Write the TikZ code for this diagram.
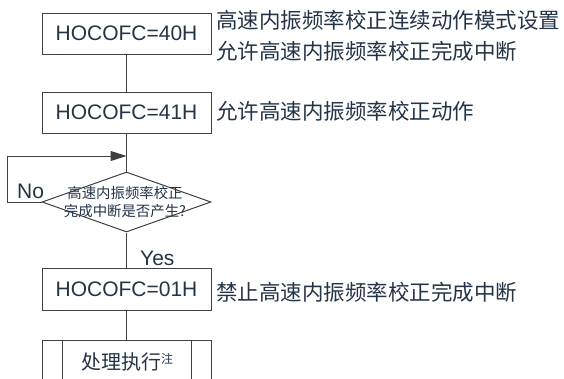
\documentclass[tikz,border=0pt]{standalone}
\usepackage{fontspec}
\setmainfont{Liberation Sans}
\newfontfamily\cjk{Noto Sans CJK SC}
\usetikzlibrary{shapes.geometric,arrows.meta}
\definecolor{txt}{RGB}{36,52,71}
\definecolor{ln}{RGB}{64,64,64}
\begin{document}
\begin{tikzpicture}[x=1pt,y=-1pt,
 box/.style={draw=ln,line width=1pt,minimum width=169pt,minimum height=41pt,inner sep=0pt,text=txt,font=\fontsize{21}{21}\selectfont},
 note/.style={anchor=west,text=txt,inner sep=0pt,font=\cjk\fontsize{21.5}{31}\selectfont,align=left},
 conn/.style={draw=ln,line width=1pt},
 lbl/.style={text=txt,inner sep=0pt,anchor=base west,font=\fontsize{21}{21}\selectfont}]
\useasboundingbox (0,0) rectangle (564,378);
\clip (0,0) rectangle (564,378);
\node[box] (b1) at (126.5,33.5) {HOCOFC=40H};
\node[box] (b2) at (126.5,112.5) {HOCOFC=41H};
\node[draw=ln,line width=1pt,diamond,minimum width=169pt,minimum height=60pt,inner sep=0pt] (d) at (126.5,202) {};
\node[text=txt,inner sep=0pt,align=center,font=\cjk\fontsize{14.4}{18}\selectfont] (dt) at (125,202) {高速内振频率校正\\完成中断是否产生?};
\node[box,minimum height=42pt] (b3) at (126.5,289) {HOCOFC=01H};
\node[box,minimum height=50pt,anchor=north] (b4) at (126.5,340) {};
\node[text=txt,inner sep=0pt,font=\cjk\fontsize{20}{20}\selectfont] (b4t) at (127,362) {处理执行\raisebox{6pt}{\fontsize{12}{12}\selectfont 注}};
\draw[conn] ([xshift=21pt]b4.north west) -- ([xshift=21pt]b4.south west);
\draw[conn] ([xshift=-20pt]b4.north east) -- ([xshift=-20pt]b4.south east);
\node[note] (n1) at (216,35.5) {高速内振频率校正连续动作模式设置\\允许高速内振频率校正完成中断};
\node[note] (n2) at (216,111) {允许高速内振频率校正动作};
\node[note] (n3) at (216,292) {禁止高速内振频率校正完成中断};
\coordinate (m) at (126.5,156);
\draw[conn] (b1) -- (b2);
\draw[conn] (b2) -- (d);
\draw[conn] (d) -- (b3);
\draw[conn] (b3) -- (b4);
\draw[conn,-{Triangle[length=16pt,width=10pt]}] (d.west) -- ++(-34,0) |- (m);
\node[lbl] (no) at (17,198) {No};
\node[lbl] (yes) at (140,265) {Yes};
\end{tikzpicture}
\end{document}
